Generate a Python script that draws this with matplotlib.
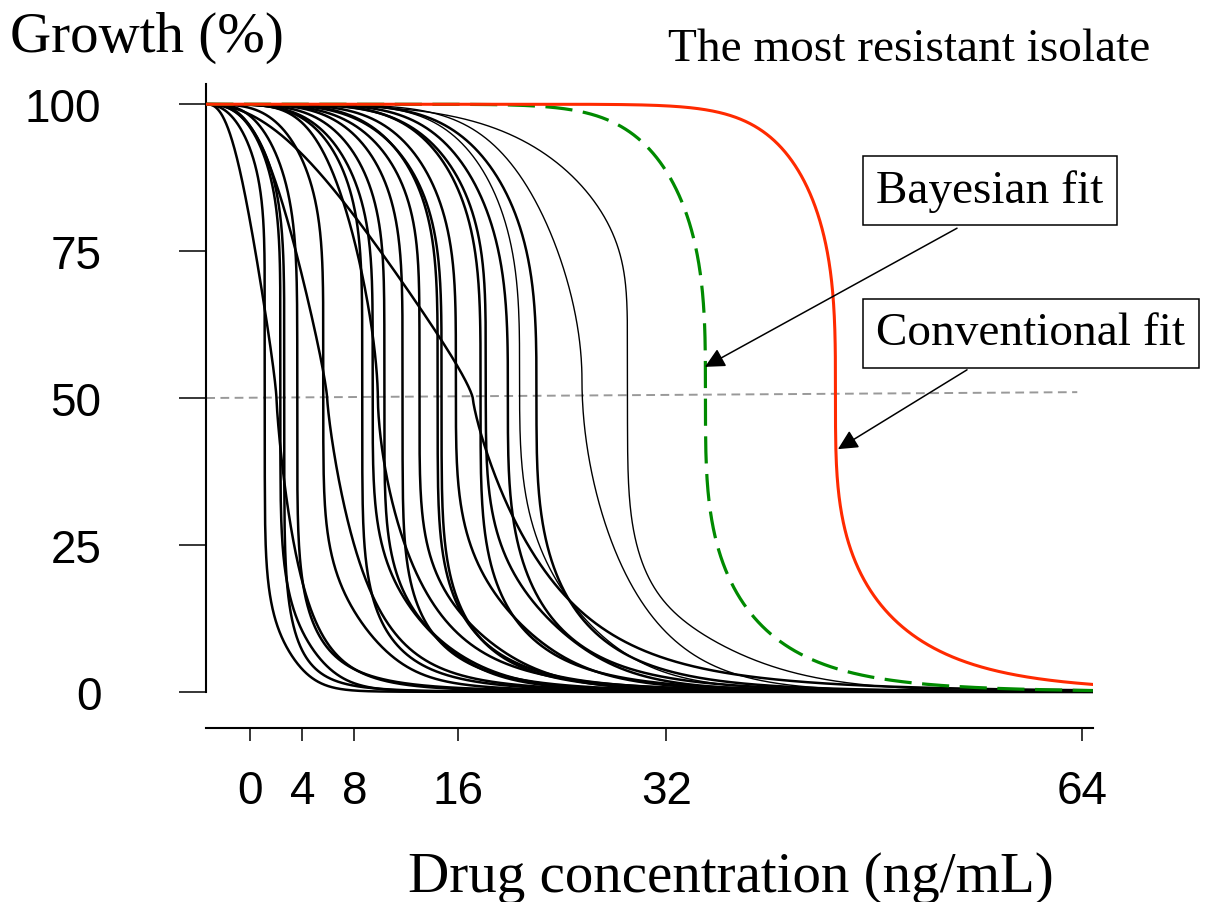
import numpy as np
import matplotlib
matplotlib.use('Agg')
import matplotlib.pyplot as plt

SERIF = 'Liberation Serif'
SANS = 'Liberation Sans'

CONC_TICKS = [0, 4, 8, 16, 32, 64]
GROWTH_TICKS = [0, 25, 50, 75, 100]

# every fitted curve starts at 100 % at the left end of the axis (C0)
C0 = -3.4
C_END = 64.8

# fitted curve of each isolate:
# ec50 (ng/mL), log-width above / below ec50, shape exponent (1 = Hill),
# fraction of slow tail, tail midpoint (ng/mL), tail width (ng/mL)
ISOLATE_EC50 = [1.1, 2.3, 2.0, 2.6, 3.6, 5.6, 5.9, 8.6, 9.4, 9.8, 10.3, 11.7,
                13.0, 14.4, 14.7, 15.8, 17.1, 17.7, 18.1, 19.8, 20.7, 22.0, 25.5, 29.0]
ISOLATE_S_TOP = [0.84, 0.70, 0.80, 0.75, 0.64, 0.56, 0.67, 0.46, 0.47, 0.40, 0.44, 0.43,
                 0.43, 0.39, 0.42, 0.36, 0.95, 0.33, 0.35, 0.32, 0.29, 0.31, 0.28, 0.43]
ISOLATE_S_BOT = [0.35, 0.40, 0.50, 0.45, 0.60, 0.55, 0.45, 0.45, 0.45, 0.45, 0.40, 0.42,
                 0.38, 0.40, 0.36, 0.38, 0.42, 0.36, 0.34, 0.34, 0.30, 0.32, 0.20, 0.09]
ISOLATE_SHAPE = [0.15, 0.18, 0.80, 0.18, 0.20, 0.20, 0.80, 0.20, 0.22, 0.60, 0.20, 0.20,
                 0.20, 0.22, 0.22, 0.25, 0.80, 0.25, 0.25, 0.30, 0.30, 0.30, 0.50, 0.20]
ISOLATE_TAIL = [0.10, 0.10, 0.0, 0.0, 0.0, 0.10, 0.0, 0.0, 0.10, 0.0, 0.08, 0.0,
                0.10, 0.0, 0.0, 0.10, 0.0, 0.0, 0.10, 0.0, 0.10, 0.0, 0.15, 0.25]
ISOLATE_TAIL_MID = [3.0, 4.6, 8.0, 5.0, 5.0, 9.0, 12.0, 10.0, 14.0, 12.0, 15.0, 14.0,
                    18.0, 16.0, 16.0, 21.0, 20.0, 20.0, 24.0, 22.0, 26.0, 24.0, 29.0, 32.3]
ISOLATE_TAIL_W = [1.2, 1.5, 3.0, 1.0, 1.0, 2.0, 3.0, 1.0, 2.5, 1.0, 3.0, 1.0,
                  3.0, 1.0, 1.0, 3.0, 1.0, 1.0, 3.0, 1.0, 3.0, 1.0, 4.0, 5.0]
THIN = [20, 22, 23]

# most resistant isolate: ec50, s_top, s_bot, shape, tail, tail_mid, tail_w
BAYES_FIT = [35.0, 0.182, 0.234, 0.3, 0.0, 40.0, 1.0]
CONV_FIT = [45.0, 0.134, 0.217, 0.3, 0.0, 50.0, 1.0]

C_MIN, C_MAX = -3.42, 64.81
Y_MIN, Y_MAX = -1.0, 103.44


def growth(c, ec50, s_top, s_bot, p, w, t_mid, t_w):
    u = np.maximum(c - C0, 1e-9)
    d = np.log(u / (ec50 - C0))
    s = np.where(d < 0, s_top, s_bot)
    main = 0.5 * (1 - np.sign(d) * np.abs(np.tanh(d / s)) ** p)
    tail = 1 / (1 + np.exp((c - t_mid) / t_w))
    return 100 * ((1 - w) * main + w * tail)


def main():
    fig = plt.figure(figsize=(12.05, 9.03), dpi=100)
    ax = fig.add_axes([206 / 1205, (903 - 698.7) / 903, 887 / 1205, 613.7 / 903])

    conc = np.linspace(C0, C_END, 5000)
    for i in range(len(ISOLATE_EC50)):
        g = growth(conc, ISOLATE_EC50[i], ISOLATE_S_TOP[i], ISOLATE_S_BOT[i],
                   ISOLATE_SHAPE[i], ISOLATE_TAIL[i], ISOLATE_TAIL_MID[i],
                   ISOLATE_TAIL_W[i])
        lw = 1.0 if i in THIN else 1.8
        ax.plot(conc, g, color='black', lw=lw, zorder=2)

    ax.plot(conc, growth(conc, *BAYES_FIT), color='#008a00', lw=2.3,
            dashes=(8.5, 3.3), zorder=3)
    ax.plot(conc, growth(conc, *CONV_FIT), color='#ff2a00', lw=2.2, zorder=3)

    ax.plot([C0, 63.6], [50, 51], color='#999999', lw=1.4, dashes=(4.5, 2.8), zorder=1)

    ax.set_xlim(C_MIN, C_MAX)
    ax.set_ylim(Y_MIN, Y_MAX)
    for side in ['top', 'right']:
        ax.spines[side].set_visible(False)
    ax.spines['left'].set_bounds(0, Y_MAX)
    ax.spines['left'].set_linewidth(1.5)
    ax.spines['bottom'].set_position(('outward', 21.6))
    ax.spines['bottom'].set_linewidth(1.5)

    ax.set_xticks(CONC_TICKS)
    ax.set_xticklabels([str(t) for t in CONC_TICKS])
    ax.set_yticks(GROWTH_TICKS)
    ax.set_yticklabels([str(t) for t in GROWTH_TICKS])
    ax.tick_params(axis='y', direction='out', length=19.4, width=1.1, pad=56,
                   labelsize=33)
    ax.tick_params(axis='x', direction='out', length=9.4, width=1.1, pad=20,
                   labelsize=33)
    for lab in ax.get_xticklabels() + ax.get_yticklabels():
        lab.set_family(SANS)

    box = dict(boxstyle='square,pad=0.28', fc='white', ec='black', lw=1.1)
    ax.text(56.88, 85.3, 'Bayesian fit', family=SERIF, fontsize=34,
            ha='center', va='center', bbox=box, zorder=5)
    ax.text(60.04, 61.06, 'Conventional fit', family=SERIF, fontsize=34,
            ha='center', va='center', bbox=box, zorder=5)

    arrow = dict(arrowstyle='-|>', color='black', lw=1.1, mutation_scale=30,
                 shrinkA=0, shrinkB=0)
    ax.annotate('', xy=(34.96, 55.3), xytext=(54.35, 78.9), arrowprops=arrow, zorder=4)
    ax.annotate('', xy=(45.19, 41.3), xytext=(55.12, 54.8), arrowprops=arrow, zorder=4)

    fig.text(10 / 1205, 1 - 38 / 903, 'Growth (%)', family=SERIF, fontsize=41,
             ha='left', va='center')
    fig.text(909 / 1205, 1 - 50 / 903, 'The most resistant isolate', family=SERIF,
             fontsize=34, ha='center', va='center')
    fig.text(731 / 1205, 1 - 878 / 903, 'Drug concentration (ng/mL)', family=SERIF,
             fontsize=41, ha='center', va='center')

    fig.savefig('out.png', dpi=100)


if __name__ == '__main__':
    main()
